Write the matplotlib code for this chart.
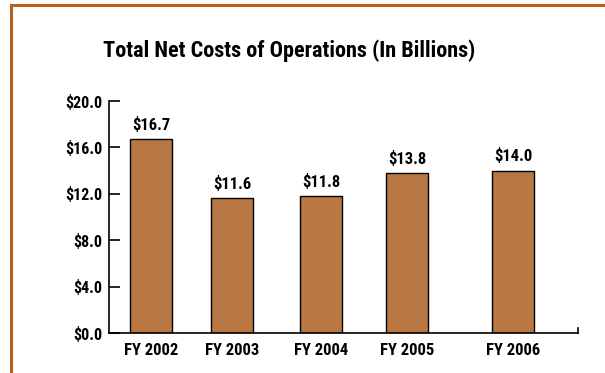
import matplotlib
matplotlib.use("Agg")
import matplotlib.pyplot as plt
from matplotlib.lines import Line2D

# Net cost of operations by fiscal year, in billions of dollars
years = ["FY 2002", "FY 2003", "FY 2004", "FY 2005", "FY 2006"]
net_costs = [16.7, 11.6, 11.8, 13.8, 14.0]
y_ticks = [0, 4, 8, 12, 16, 20]

BAR_COLOR = "#B97843"
FRAME_COLOR = "#B8621E"
FONT = ["Roboto Condensed", "Archivo Narrow", "DejaVu Sans"]
WEIGHT = 800

plt.rcParams["font.family"] = FONT
plt.rcParams["font.weight"] = WEIGHT

fig = plt.figure(figsize=(6.05, 3.73), dpi=100)
ax = fig.add_axes([109 / 605, 40 / 373, 469 / 605, 232 / 373])

# bar centers along the axis (pixel-like units), slightly uneven spacing
x_pos = [42, 123, 212, 298, 404]
ax.bar(x_pos, net_costs, width=42, color=BAR_COLOR, edgecolor="black", linewidth=1.0, zorder=2)

for x, v in zip(x_pos, net_costs):
    ax.annotate(f"${v:.1f}", (x, v), xytext=(0, 4.5), textcoords="offset points",
                ha="center", va="bottom", fontsize=12, fontweight=WEIGHT)

ax.set_xlim(0, 469)
ax.set_ylim(0, 20)
ax.set_xticks(x_pos)
ax.set_xticklabels(years, fontsize=12, fontweight=WEIGHT)
ax.set_yticks(y_ticks)
ax.set_yticklabels([f"${t:.1f}" for t in y_ticks], fontsize=11.5, fontweight=WEIGHT)
ax.tick_params(axis="y", direction="in", length=8, width=1.2, pad=5)
ax.tick_params(axis="x", length=0, pad=7)

for side in ["top", "right"]:
    ax.spines[side].set_visible(False)
for side in ["left", "bottom"]:
    ax.spines[side].set_linewidth(1.2)

# small upward tick closing the x axis on the right
ax.plot([469, 469], [0, 0.45], color="black", lw=1.2, clip_on=False, zorder=3)

fig.text(289 / 605, 1 - 51 / 373, "Total Net Costs of Operations (In Billions)",
         ha="center", va="center", fontsize=16, fontweight=WEIGHT)

# orange frame along the top and left edges
fig.add_artist(Line2D([10.5 / 605, 1], [1 - 5 / 373, 1 - 5 / 373], color=FRAME_COLOR, lw=2.2))
fig.add_artist(Line2D([10.5 / 605, 10.5 / 605], [0, 1 - 5 / 373], color=FRAME_COLOR, lw=2.2))

fig.savefig("out.png", dpi=100)
